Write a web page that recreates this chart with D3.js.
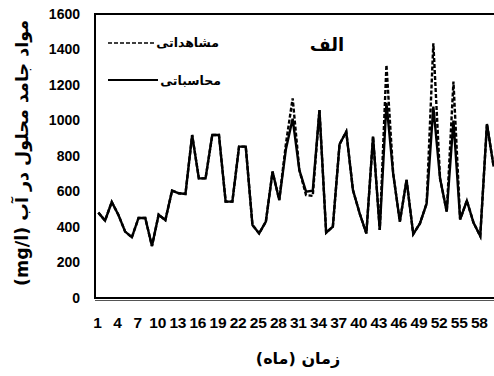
<!DOCTYPE html>
<html>
<head>
<meta charset="utf-8">
<script src="https://cdn.jsdelivr.net/npm/d3@7"></script>
<style>
  html, body { margin: 0; padding: 0; background: #fff; }
  svg { display: block; }
</style>
</head>
<body>
<svg id="chart" width="494" height="376"></svg>
<script>
// Monthly TDS (mg/l): 60 months
const months = d3.range(1, 61);
const calculated = [481,436,541,468,374,342,451,451,293,469,439,605,590,586,918,674,674,918,918,543,
                    543,853,853,411,364,430,712,552,840,1010,721,599,605,1059,368,402,866,937,608,477,
                    364,909,383,1100,702,430,665,360,420,533,1078,674,486,1000,443,548,424,349,980,740];
const observed   = [481,436,541,468,374,342,451,451,293,469,439,605,590,586,918,674,674,918,918,543,
                    543,853,853,411,364,430,712,552,870,1125,721,580,575,1059,368,402,866,937,608,477,
                    364,909,383,1313,702,430,665,360,420,533,1435,674,486,1219,443,548,424,349,980,740];
const yTicks = [0, 200, 400, 600, 800, 1000, 1200, 1400, 1600];
const xTickMonths = d3.range(1, 61, 3);

const labels = {
  yTitle: "مواد جامد محلول در آب (mg/l)",
  xTitle: "زمان (ماه)",
  panel: "الف",
  observed: "مشاهداتی",
  calculated: "محاسباتی"
};

const svg = d3.select("#chart");
const plot = { left: 95, right: 497, top: 14, bottom: 298 };

const x = d3.scaleBand().domain(months).range([plot.left, plot.right]);
const y = d3.scaleLinear().domain([0, 1600]).range([plot.bottom, plot.top]);
const cx = m => x(m) + x.bandwidth() / 2;

const numFont = "'Liberation Sans', Arial, sans-serif";
const arFont = "'DejaVu Sans', sans-serif";

// y axis labels
const yAxis = svg.append("g")
  .attr("transform", `translate(${plot.left - 15},0)`)
  .call(d3.axisLeft(y).tickValues(yTicks).tickSize(0).tickPadding(0).tickFormat(d3.format("d")));
yAxis.select(".domain").remove();
yAxis.selectAll("text")
  .attr("font-family", numFont).attr("font-weight", "bold").attr("font-size", 14).attr("fill", "#000");

// x axis labels
const xAxis = svg.append("g")
  .attr("transform", `translate(-1,${plot.bottom + 19})`)
  .call(d3.axisBottom(x).tickValues(xTickMonths).tickSize(0).tickPadding(0));
xAxis.select(".domain").remove();
xAxis.selectAll("text")
  .attr("font-family", numFont).attr("font-weight", "bold").attr("font-size", 15.5)
  .attr("letter-spacing", -0.3).attr("fill", "#000");

// frame
svg.append("rect")
  .attr("x", plot.left).attr("y", plot.top)
  .attr("width", plot.right - plot.left).attr("height", plot.bottom - plot.top)
  .attr("fill", "none").attr("stroke", "#000").attr("stroke-width", 2);
svg.append("line")
  .attr("x1", plot.left).attr("x2", plot.right)
  .attr("y1", plot.bottom + 2.5).attr("y2", plot.bottom + 2.5)
  .attr("stroke", "#555").attr("stroke-width", 1);

const line = d3.line().x((d, i) => cx(months[i])).y(d => y(d));

svg.append("path").datum(observed)
  .attr("d", line).attr("fill", "none").attr("stroke", "#000")
  .attr("stroke-width", 2.4).attr("stroke-dasharray", "4,2");
svg.append("path").datum(calculated)
  .attr("d", line).attr("fill", "none").attr("stroke", "#000")
  .attr("stroke-width", 2.4);

// legend (right-to-left text: anchor "start" sits at the right edge)
const legend = svg.append("g");
legend.append("line").attr("x1", 108).attr("x2", 155).attr("y1", 43).attr("y2", 43)
  .attr("stroke", "#000").attr("stroke-width", 1.6).attr("stroke-dasharray", "4,2");
legend.append("text").attr("x", 219).attr("y", 47).attr("text-anchor", "start")
  .attr("direction", "rtl")
  .attr("font-family", arFont).attr("font-weight", "bold").attr("font-size", 12.5)
  .text(labels.observed);
legend.append("line").attr("x1", 108).attr("x2", 158).attr("y1", 80).attr("y2", 80)
  .attr("stroke", "#000").attr("stroke-width", 2.2);
legend.append("text").attr("x", 221).attr("y", 85).attr("text-anchor", "start")
  .attr("direction", "rtl")
  .attr("font-family", arFont).attr("font-weight", "bold").attr("font-size", 12.5)
  .text(labels.calculated);

// panel label
svg.append("text").attr("x", 327).attr("y", 51).attr("text-anchor", "middle")
  .attr("direction", "rtl")
  .attr("font-family", arFont).attr("font-weight", "bold").attr("font-size", 18)
  .text(labels.panel);

// axis titles
svg.append("text")
  .attr("transform", "translate(28,153) rotate(-90)")
  .attr("text-anchor", "middle")
  .attr("direction", "rtl")
  .attr("font-family", arFont).attr("font-weight", "bold").attr("font-size", 17.5)
  .text(labels.yTitle);
svg.append("text").attr("x", 298).attr("y", 364).attr("text-anchor", "middle")
  .attr("direction", "rtl")
  .attr("font-family", arFont).attr("font-weight", "bold").attr("font-size", 16)
  .text(labels.xTitle);
</script>
</body>
</html>
